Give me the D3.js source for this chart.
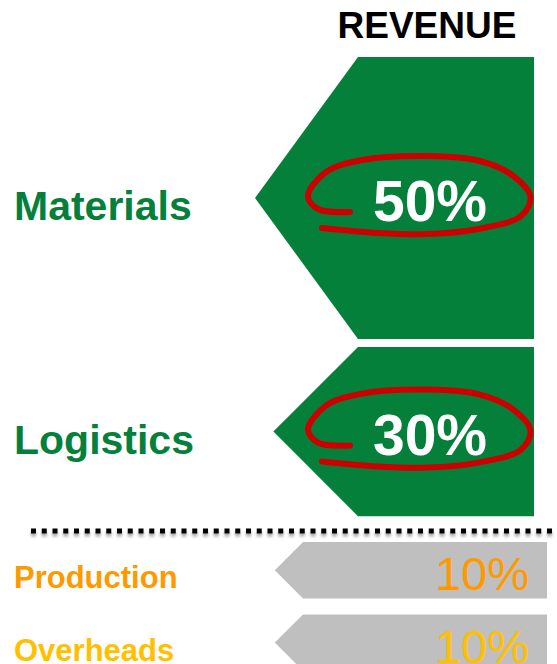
<!DOCTYPE html>
<html>
<head>
<meta charset="utf-8">
<script src="https://cdn.jsdelivr.net/npm/d3@7"></script>
<style>
  body { margin: 0; background: #fff; }
  svg { display: block; font-family: "Liberation Sans", Arial, sans-serif; }
</style>
</head>
<body>
<script>
// data
var categories = ["Materials", "Logistics", "Production", "Overheads"];
var shares = [50, 30, 10, 10];
var inRevenue = [true, true, false, false];
var labelColors = ["#05803A", "#05803A", "#FF9900", "#FFC000"];
var title = "REVENUE";

var width = 557, height = 664;

var svg = d3.select("body").append("svg")
    .attr("width", width).attr("height", height);

// drop shadow for the dotted divider (user space, the line has no height)
var defs = svg.append("defs");
defs.append("filter").attr("id", "shadow")
    .attr("filterUnits", "userSpaceOnUse")
    .attr("x", 0).attr("y", 515).attr("width", width).attr("height", 35)
  .append("feDropShadow")
    .attr("dx", 0).attr("dy", 3).attr("stdDeviation", 1.6)
    .attr("flood-color", "#000").attr("flood-opacity", 0.35);

// block height from share
var h = d3.scaleLinear().domain([0, 50]).range([0, 282]);

// layout of the two groups
var groupStyle = {
  true:  { top: 57,  gap: 8,  right: 534, bodyLeft: 358, fill: "#05803A" },
  false: { top: 542, gap: 16, right: 547, bodyLeft: 303, fill: "#BFBFBF" }
};
var maxDepth = 103;

var blocks = [];
var cursor = { true: groupStyle[true].top, false: groupStyle[false].top };
categories.forEach(function(c, i){
  var g = groupStyle[inRevenue[i]];
  var top = cursor[inRevenue[i]];
  var bh = h(shares[i]);
  cursor[inRevenue[i]] = top + bh + g.gap;
  blocks.push({ name: c, value: shares[i], rev: inRevenue[i], color: labelColors[i],
                top: top, bottom: top + bh, cy: top + bh / 2, g: g });
});

// arrow-shaped blocks
svg.append("g").selectAll("path.block")
  .data(blocks).enter().append("path")
    .attr("class", "block")
    .attr("fill", function(d){ return d.g.fill; })
    .attr("d", function(d){
      var depth = Math.min((d.bottom - d.top) / 2, maxDepth);
      return d3.line()([
        [d.g.bodyLeft, d.top], [d.g.right, d.top], [d.g.right, d.bottom],
        [d.g.bodyLeft, d.bottom], [d.g.bodyLeft - depth, d.cy]
      ]) + "Z";
    });

// title
svg.append("text")
    .attr("x", 427).attr("y", 38)
    .attr("text-anchor", "middle")
    .attr("font-size", 37).attr("font-weight", "bold")
    .attr("fill", "#000")
    .text(title);

// category labels
svg.append("g").selectAll("text")
  .data(blocks).enter().append("text")
    .attr("x", 14)
    .attr("y", function(d){ return d.cy + (d.rev ? 22 : 18); })
    .attr("font-size", function(d){ return d.rev ? 41 : 31; })
    .attr("font-weight", "bold")
    .attr("fill", function(d){ return d.color; })
    .text(function(d){ return d.name; });

// hand-drawn ring round the revenue values (offsets from right edge / text centre)
var ring = [[-184,11],[-216,8],[-226,-5],[-208,-29],[-172,-41],[-106,-45],[-54,-40],
            [-22,-26],[-3.5,-4],[-13,15],[-56,28],[-106,33],[-156,32],[-212,27]];
var ringLine = d3.line().curve(d3.curveCatmullRom.alpha(0.5));

var rev = blocks.filter(function(d){ return d.rev; });
svg.append("g").selectAll("path.ring")
  .data(rev).enter().append("path")
    .attr("class", "ring")
    .attr("fill", "none")
    .attr("stroke", "#CC0000")
    .attr("stroke-width", 6)
    .attr("stroke-linecap", "round")
    .attr("d", function(d){
      var cy = d.cy + 3;
      return ringLine(ring.map(function(p){ return [d.g.right + p[0], cy + p[1]]; }));
    });

// values
svg.append("g").selectAll("text")
  .data(blocks).enter().append("text")
    .attr("x", function(d){ return d.rev ? d.g.right - 104 : d.g.right - 18; })
    .attr("y", function(d){ return d.rev ? d.cy + 23 : d.cy + 20; })
    .attr("text-anchor", function(d){ return d.rev ? "middle" : "end"; })
    .attr("font-size", function(d){ return d.rev ? 57 : 47; })
    .attr("font-weight", function(d){ return d.rev ? "bold" : "normal"; })
    .attr("fill", function(d){ return d.rev ? "#fff" : d.color; })
    .text(function(d){ return d.value + "%"; });

// dotted divider between revenue and the rest
svg.append("line")
    .attr("x1", 31).attr("x2", width)
    .attr("y1", 531).attr("y2", 531)
    .attr("stroke", "#000")
    .attr("stroke-width", 5)
    .attr("stroke-dasharray", "5,5.75")
    .attr("filter", "url(#shadow)");
</script>
</body>
</html>
